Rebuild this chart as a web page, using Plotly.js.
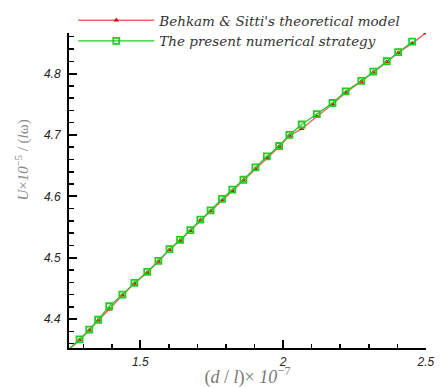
<!DOCTYPE html>
<html>
<head>
<meta charset="utf-8">
<script src="https://cdn.plot.ly/plotly-3.0.1.min.js"></script>
<style>html,body{margin:0;padding:0;background:#fff;}#chart{width:441px;height:388px;}</style>
</head>
<body>
<div id="chart"></div>
<script>
// d/l (x 10^-7)
const xValues = [1.22, 1.287, 1.321, 1.352, 1.391, 1.437, 1.479, 1.524, 1.563, 1.602, 1.639, 1.675, 1.710, 1.746, 1.786, 1.822, 1.861, 1.903, 1.943, 1.986, 2.022, 2.065, 2.118, 2.173, 2.219, 2.274, 2.316, 2.363, 2.403, 2.452, 2.5];
// Behkam & Sitti's theoretical model
const theoryU = [4.338, 4.366, 4.382, 4.398, 4.416, 4.439, 4.458, 4.476, 4.494, 4.513, 4.528, 4.544, 4.561, 4.576, 4.593, 4.609, 4.626, 4.645, 4.663, 4.681, 4.699, 4.710, 4.730, 4.750, 4.769, 4.787, 4.802, 4.819, 4.834, 4.849, 4.866];
// The present numerical strategy
const numericalX = xValues.slice(0, 30);
const numericalU = [4.339, 4.367, 4.383, 4.399, 4.421, 4.440, 4.459, 4.477, 4.495, 4.514, 4.529, 4.545, 4.562, 4.577, 4.596, 4.611, 4.627, 4.647, 4.665, 4.682, 4.700, 4.717, 4.734, 4.752, 4.771, 4.788, 4.803, 4.820, 4.835, 4.852];

const traces = [
  {
    x: xValues, y: theoryU, type: 'scatter', mode: 'lines+markers',
    name: "Behkam & Sitti's theoretical model",
    line: {color: '#e86a6a', width: 1.5},
    marker: {symbol: 'triangle-up', size: 5, color: '#e00000'}
  },
  {
    x: numericalX, y: numericalU, type: 'scatter', mode: 'lines+markers',
    name: 'The present numerical strategy',
    line: {color: '#22cc22', width: 1.2},
    marker: {symbol: 'square-open', size: 6, color: '#22cc22', line: {width: 1.8}}
  }
];

const tickFont = {family: 'Liberation Sans, Arial, sans-serif', size: 12, color: '#222', style: 'italic'};
const layout = {
  width: 441, height: 388,
  margin: {l: 69, r: 15, t: 33, b: 40, autoexpand: false},
  paper_bgcolor: '#fff', plot_bgcolor: '#fff',
  showlegend: true,
  legend: {
    x: 0.012, xanchor: 'left', y: 1.089, yanchor: 'top',
    bgcolor: 'rgba(0,0,0,0)', itemwidth: 76,
    font: {family: 'DejaVu Serif, serif', size: 13.5, color: '#333', style: 'italic'}
  },
  xaxis: {
    range: [1.25, 2.5005], tick0: 0, dtick: 0.5,
    ticks: 'inside', ticklen: 8, tickwidth: 2, tickcolor: '#000',
    minor: {dtick: 0.1, ticks: 'inside', ticklen: 4, tickwidth: 1.5, tickcolor: '#000'},
    showline: true, linewidth: 2, linecolor: '#000', showgrid: false, zeroline: false,
    tickfont: tickFont, ticklabelstandoff: 2,
    title: {text: '(<i>d</i> / <i>l</i>)× <i>10</i><sup>−7</sup>', standoff: 4,
      font: {family: 'Liberation Serif, Times New Roman, serif', size: 18, color: '#777'}}
  },
  yaxis: {
    range: [4.353, 4.866], tick0: 0, dtick: 0.1,
    ticks: 'inside', ticklen: 8, tickwidth: 2, tickcolor: '#000',
    minor: {dtick: 0.02, ticks: 'inside', ticklen: 5, tickwidth: 1.5, tickcolor: '#000'},
    showline: true, linewidth: 2, linecolor: '#000', showgrid: false, zeroline: false,
    tickfont: tickFont, ticklabelstandoff: 4
  },
  annotations: [{
    text: '<i>U</i>×<i>10</i><sup>−5</sup> / (<i>l</i>ω)',
    xref: 'paper', yref: 'paper', x: -0.13, y: 0.597,
    xanchor: 'center', yanchor: 'middle', textangle: -90, showarrow: false,
    font: {family: 'Liberation Serif, Times New Roman, serif', size: 15, color: '#888'}
  }]
};

Plotly.newPlot('chart', traces, layout, {staticPlot: true, displayModeBar: false});
</script>
</body>
</html>
